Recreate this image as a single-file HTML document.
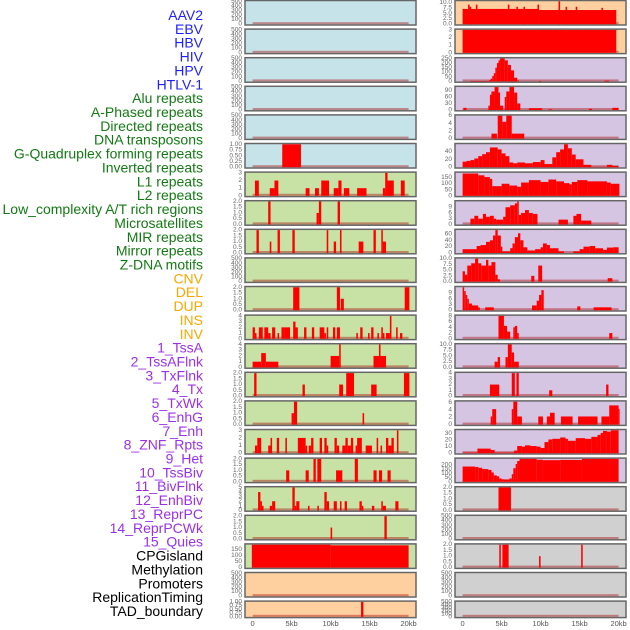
<!DOCTYPE html>
<html><head><meta charset="utf-8"><style>
html,body{margin:0;padding:0;background:#fff;}
svg{display:block;font-family:"Liberation Sans",sans-serif;}
</style></head><body>
<svg id="chart" width="630" height="630" viewBox="0 0 630 630"></svg>
<script>
const trackLabels=["AAV2","EBV","HBV","HIV","HPV","HTLV-1","Alu repeats","A-Phased repeats","Directed repeats","DNA transposons","G-Quadruplex forming repeats","Inverted repeats","L1 repeats","L2 repeats","Low_complexity A/T rich regions","Microsatellites","MIR repeats","Mirror repeats","Z-DNA motifs","CNV","DEL","DUP","INS","INV","1_TssA","2_TssAFlnk","3_TxFlnk","4_Tx","5_TxWk","6_EnhG","7_Enh","8_ZNF_Rpts","9_Het","10_TssBiv","11_BivFlnk","12_EnhBiv","13_ReprPC","14_ReprPCWk","15_Quies","CPGisland","Methylation","Promoters","ReplicationTiming","TAD_boundary"];
const labelColors=[...Array(6).fill("#1f1fff"),...Array(13).fill("#127a12"),...Array(5).fill("#ffa500"),...Array(15).fill("#9b30e8"),...Array(5).fill("#000")];
const xTickKb=[0,5,10,15,20];
const xTickLabels=["0","5kb","10kb","15kb","20kb"];
const e500=[0,100,200,300,400,500];
// left column: [ticks, ymax, segments [startKb,endKb,value]]
const leftTicks=[e500,e500,e500,e500,e500,["0.00","0.25","0.50","0.75","1.00"],[0,1,2,3],["0.0","0.5","1.0","1.5","2.0"],["0.0","0.5","1.0","1.5","2.0"],e500,["0.0","0.5","1.0","1.5","2.0"],[0,1,2,3,4],[0,1,2,3,4],["0.0","0.5","1.0","1.5","2.0"],["0.0","0.5","1.0","1.5","2.0"],[0,1,2,3],["0.0","0.5","1.0","1.5","2.0"],[0,1,2,3,4,5],["0.0","0.5","1.0","1.5","2.0"],[0,50,100,150],e500,["0.00","0.25","0.50","0.75","1.00"]];
const leftMax=[500,500,500,500,500,1,3,2,2,500,2,4,4,2,2,3,2,5,2,190,500,1];
const leftSegs=[[],[],[],[],[],
[[3.8,6.2,1]],
[[0.3,0.8,2],[2.2,2.8,1],[2.8,3.3,2],[6.8,7.3,1],[8,8.5,1],[8.8,9.8,2],[10.4,11,1],[11,11.4,2],[11.7,12.4,1],[13.4,14.6,1],[16.7,17,1],[17,17.3,3],[17.3,18.1,2],[19,19.5,2]],
[[2,2.3,2],[8.2,8.5,1],[8.5,8.8,2],[10.9,11.2,2]],
[[0.5,0.8,2],[2.2,2.4,1],[3.2,3.5,2],[5.1,5.4,2],[9.5,9.7,2],[10.4,10.7,1],[11.2,11.4,2],[13.6,14.2,1],[15.5,15.8,2],[16.5,16.7,2],[16.7,17.1,1]],
[],
[[5.2,6,2],[10.8,11.2,2],[11.3,11.7,1],[19.5,20.1,2]],
[[0,0.3,2],[0.3,0.5,1],[0.8,1.3,2],[1.5,2,2],[2,2.3,1],[2.5,2.9,2],[3.2,3.4,1],[3.7,4.1,2],[4.1,4.8,2],[5.2,5.5,3],[5.5,5.8,2],[6.6,6.9,2],[7.6,7.9,2],[8.6,9.2,2],[9.2,9.4,1],[9.5,9.7,2],[10.3,10.6,2],[10.8,11.2,2],[13.3,13.5,1],[13.8,14.1,2],[14.8,15,1],[15.2,15.5,2],[16,16.2,1],[16.5,16.7,2],[16.7,16.9,1],[17.1,17.6,1],[17.6,17.8,4],[18.4,18.6,2],[18.9,19.2,1]],
[[0,1.1,1],[1.1,1.7,2.5],[1.7,3.3,1],[10,11.1,2],[11.1,11.3,4],[15.5,16.2,2],[16.2,16.4,4],[16.4,17.1,2]],
[[0.2,0.5,2],[6.4,6.7,1],[11.1,11.6,1],[12,13,2],[15.2,15.9,1],[19.4,20.1,2]],
[[5,5.3,1],[5.3,5.7,2],[14.1,14.3,1]],
[[0.3,0.6,1],[0.6,1.1,2],[2,2.3,1],[2.3,2.5,2],[3.1,3.4,2],[4.2,4.4,2],[5.8,6.4,2],[6.4,6.8,2],[6.8,7,1],[7.2,7.5,1],[7.5,7.8,2],[8.6,8.9,2],[9.2,9.5,2],[9.5,9.7,1],[10.5,10.8,2],[10.8,11.1,1],[11.5,11.9,1],[11.9,12.2,2],[12.2,12.6,1],[12.6,12.9,2],[13.2,13.4,1],[13.4,14,2],[14.5,15.3,1],[15.9,16.1,2],[16.4,16.6,1],[17.1,17.4,2],[17.4,17.8,1],[17.8,18.1,2],[18.5,18.7,3]],
[[4.3,4.7,1],[6.8,7.2,1],[7.8,8.1,2],[8.3,8.8,2],[10.7,11.5,1],[13.1,13.5,2],[15.5,15.9,1],[16.2,16.6,1],[17.3,17.7,1]],
[[0.7,1,4],[1,1.2,2],[1.2,1.4,1],[2.2,2.5,1],[2.5,2.9,2],[5.1,5.4,5],[5.4,5.6,1],[5.6,6,2],[7.1,7.3,1],[8.3,8.5,1],[9.2,9.5,4],[9.5,9.8,2],[10.4,10.8,2],[11.2,11.4,2],[11.8,12.1,2],[13.7,14,2],[14,14.2,1],[15.3,15.6,1],[16.5,16.7,2],[16.7,17.1,1],[18.3,18.7,2]],
[[10,10.2,1],[16.9,17.2,2]],
[[-0.1,10,190],[10,20,185]],
[],
[[13.9,14.2,1]]];
const rightTicks=[["0.0","2.5","5.0","7.5","10.0"],[0,1,2,3],[0,50,100,150,200,250],[0,30,60,90],[0,2,4,6],[0,20,40],[0,50,100,150],[0,3,6,9],[0,20,40,60],["0.0","2.5","5.0","7.5","10.0"],[0,3,6,9],[0,2,4,6,8],["0.0","2.5","5.0","7.5","10.0"],[0,1,2,3,4],[0,2,4,6],[0,10,20,30],[0,50,100,150,200],["0.0","0.5","1.0","1.5","2.0"],e500,["0.0","0.5","1.0","1.5","2.0"],e500,e500];
const rightMax=[10.5,3,250,105,6,58,190,12,72,10,12,8,10,4,6.2,35,270,2,500,2,500,500];
const rightSegs=[
[[0,9.8,7],[9.8,19.7,6.5],[0.7,0.9,9],[0.9,1.1,8],[1.7,1.9,9],[5.8,6,9],[6.9,7.1,8],[7.8,8,8],[9.6,9.8,9],[12.3,12.5,10.5],[13.2,13.4,8],[14.5,14.7,8],[17.8,18,7.5]],
[[0,19.7,3]],
[[1,3.4,5],[3.4,3.6,15],[3.6,3.8,30],[3.8,4,60],[4,4.2,90],[4.2,4.4,150],[4.4,4.6,200],[4.6,4.8,230],[4.8,5.4,250],[5.4,5.8,230],[5.8,6.2,180],[6.2,6.6,120],[6.6,7,40],[7,7.2,10],[9.8,10.1,5],[18.2,18.8,8]],
[[0.1,0.5,10],[3.3,3.5,20],[3.5,3.7,70],[3.7,4.1,85],[4.1,4.6,105],[4.6,4.8,80],[4.8,5.2,20],[5.4,5.6,60],[5.6,6,85],[6,6.6,105],[6.6,7,80],[7,7.4,30],[8.5,10.2,8],[11,11.5,3],[16.2,16.6,5],[19.2,20,10]],
[[3.7,4.4,1.3],[4.5,5.1,6],[5.1,5.6,4.4],[5.6,6.3,6],[6.3,7.9,1.3]],
[[0,0.5,14],[0.5,1,16],[1,1.5,18],[1.5,2,22],[2,2.5,28],[2.5,3,33],[3,3.5,38],[3.5,4.5,50],[4.5,5,45],[5,5.5,35],[5.5,6,28],[6,6.5,12],[6.5,7,10],[7,8,12],[8,9,10],[9,10,13],[10,10.5,18],[10.5,11.5,8],[11.5,12,25],[12,12.5,38],[12.5,13,45],[13,13.5,58],[13.5,14,48],[14,14.5,32],[14.5,15.5,20],[15.5,16.5,6],[16.5,18.5,1],[18.5,19.2,6],[19.2,20,3]],
[[0,2,185],[2,2.8,170],[2.8,3.5,155],[3.5,3.8,140],[3.8,5,80],[5,6,100],[6,7,85],[7,7.5,75],[7.5,8.5,110],[8.5,10,130],[10,11,115],[11,12,135],[12,13,120],[13,13.7,105],[13.7,14,95],[14,14.7,115],[14.7,16,130],[16,18.5,120],[18.5,19,110],[19,20.1,100]],
[[1,1.5,3],[1.5,2,4.5],[2,2.6,3],[2.6,3,5.5],[3,3.5,4],[3.5,4,4.5],[4,4.3,3],[4.3,5.2,2.5],[5.2,5.5,4],[5.5,6.1,9],[6.1,6.7,10],[6.7,7,11],[7,7.2,12],[7.2,7.5,5],[7.5,8,6],[8,8.5,7.5],[8.5,9,6],[9,9.6,5.5],[12.3,13.5,2.5],[14.2,14.6,4.5],[14.6,15.2,5.5],[15.2,16.5,2]],
[[0,1.8,12],[1.8,2.3,22],[2.3,3,25],[3,3.5,35],[3.5,3.9,40],[3.9,4.2,55],[4.2,4.5,72],[4.5,4.9,55],[4.9,5.1,20],[5.1,6.1,5],[6.1,6.4,15],[6.4,6.7,30],[6.7,7.1,50],[7.1,7.4,62],[7.4,7.8,40],[7.8,8.3,18],[8.3,9.3,8],[9.3,10,12],[10,10.3,18],[10.3,10.8,30],[10.8,11.2,25],[11.2,12.3,15],[12.3,13,5],[14.2,15,5],[15,15.5,12],[15.5,16.3,20],[16.3,17,22],[17,18,15],[18,18.5,10],[18.5,19.3,17],[19.3,20,18]],
[[0,0.3,4.5],[0.3,0.6,3],[0.6,1.1,7],[1.1,1.6,8],[1.6,2,10],[2,2.4,8],[2.4,3,7],[3,3.3,9.5],[3.3,3.7,7],[3.7,4.2,8.5],[4.2,4.5,3],[4.5,4.8,1],[8.8,9.2,2.5],[9.7,10.2,7],[18.6,19.2,1.5]],
[[0,0.2,12],[0.2,0.4,10],[0.4,0.6,8],[0.6,0.8,6],[0.8,1.2,3.5],[1.2,2,2.5],[2,2.2,1.5],[2.9,4,1.5],[8.9,9.5,2.5],[9.5,9.8,5],[9.8,10.1,8],[10.1,10.4,10.5],[14.7,15.1,2],[16.8,19.1,1.5]],
[[4.6,5.3,8],[5.3,5.7,4.5],[5.7,6.1,2.5],[6.5,6.7,4],[6.7,7,4.5],[7,7.2,2],[18.8,19.2,2]],
[[4.1,4.5,2.5],[4.5,4.8,4.5],[5.5,5.8,4.5],[5.8,6.3,10],[6.3,6.6,6.5],[6.6,7.2,2.5]],
[[3.5,4.7,2],[6.3,6.7,4],[6.9,7.2,4],[11.1,11.5,1],[18.4,18.7,2]],
[[3.6,3.8,2.2],[3.8,4.3,4.2],[6.3,6.5,4.2],[6.5,7,6.2],[7,7.6,2.2],[9.7,10.3,2.2],[10.8,11.2,2.2],[11.2,11.8,3.2],[12.6,14.1,2.2],[14.8,17.3,2.2],[17.8,18.8,2.2],[18.8,20,5.2],[20,20.1,4.2]],
[[0,1.9,1],[1.9,3.6,7],[3.6,4.1,5],[4.1,6.6,1],[6.6,7,4],[7,7.6,11],[7.6,8,10],[8,8.7,12],[8.7,9.5,11],[9.5,10,10],[10,10.5,8],[10.5,11,17],[11,11.5,21],[11.5,12.5,22],[12.5,13.2,24],[13.2,13.5,22],[13.5,14.5,19],[14.5,15.7,23],[15.7,16.5,22],[16.5,17.3,25],[17.3,17.7,28],[17.7,18,31],[18,18.5,34],[18.5,19,33],[19,20,35]],
[[0,1.6,180],[1.6,2,175],[2,2.5,165],[2.5,3.3,150],[3.3,3.7,140],[3.7,4,110],[4,4.4,75],[4.4,4.7,65],[4.7,5,40],[5,5.3,30],[5.3,6,28],[6,6.3,40],[6.3,6.5,90],[6.5,6.8,160],[6.8,7,210],[7,7.3,245],[7.3,9.5,270],[9.5,10.3,260],[10.3,12.5,255],[12.5,15.3,258],[15.3,20,270]],
[[4.6,6.2,2]],
[],
[[4.7,4.9,2],[5.1,5.9,2],[9.8,10,1],[15.2,15.4,2]],
[],[]];
const leftBg=[..."bbbbbbggggggggggggggooo"].map(c=>({b:"#c6e3ea",g:"#c8e1a5",o:"#ffd09f"})[c]);
const rightBg=[..."oopppppppppppppppgggggg"].map(c=>({o:"#ffd09f",p:"#d6c5e2",g:"#d0d0d0"})[c]);

const NS="http://www.w3.org/2000/svg";
const svg=document.getElementById("chart");
function mk(tag,attrs,parent){const e=document.createElementNS(NS,tag);for(const k in attrs)e.setAttribute(k,attrs[k]);(parent||svg).appendChild(e);return e;}
const colX=[245,455], PW=171, ROWP=28.6;
function rowTop(i){return 0.5+i*ROWP;}
function rowH(i){return i===21?16.5:24.5;}
function xScale(col,kb){return colX[col]+7.6+kb*7.8;}
function yScale(i,v,ymax){const t=rowTop(i),h=rowH(i);return t+h-0.8-(v/ymax)*(h-1.6);}

// labels
trackLabels.forEach((s,k)=>{
  const t=mk("text",{x:203,y:15+k*13.86,"text-anchor":"end","dominant-baseline":"central","font-size":14,fill:labelColors[k]});
  t.textContent=s;
  
  
});

function drawPanel(col,i,ticks,ymax,segs,bg){
  const g=mk("g",{});
  
  
  const t=rowTop(i),h=rowH(i);
  mk("rect",{x:colX[col],y:t,width:PW,height:h,fill:bg,stroke:"#666","stroke-width":1.5},g);
  const n=ticks.length;
  ticks.forEach((lab,j)=>{
    const v=ymax===500&&n===6?j*100:(parseFloat(lab));
    const yy=yScale(i,v,ymax);
    const tx=mk("text",{x:colX[col]-3,y:yy,"text-anchor":"end","dominant-baseline":"central","font-size":6.5,fill:"#666"},g);
    tx.textContent=String(lab);
    
    
  });
  mk("rect",{x:xScale(col,0),y:t+h-2.8,width:xScale(col,20)-xScale(col,0),height:2,fill:"rgba(170,20,20,0.45)"},g);
  segs.forEach(sg=>{
    const x1=xScale(col,sg[0]),x2=xScale(col,sg[1]);
    const y=Math.max(t+0.8,yScale(i,sg[2],ymax));
    const r=mk("rect",{x:x1,y:y,width:Math.max(1,x2-x1),height:t+h-0.8-y,fill:"#ff0000"},g);
    
    
  });
}
for(let i=0;i<22;i++){
  drawPanel(0,i,leftTicks[i],leftMax[i],leftSegs[i],leftBg[i]);
  drawPanel(1,i,rightTicks[i],rightMax[i],rightSegs[i],rightBg[i]);
}
[0,1].forEach(col=>{
  xTickKb.forEach((kb,j)=>{
    const t=mk("text",{x:xScale(col,kb),y:626,"text-anchor":"middle","font-size":7.5,fill:"#555"});
    t.textContent=xTickLabels[j];
    
    
  });
});
</script>
</body></html>
